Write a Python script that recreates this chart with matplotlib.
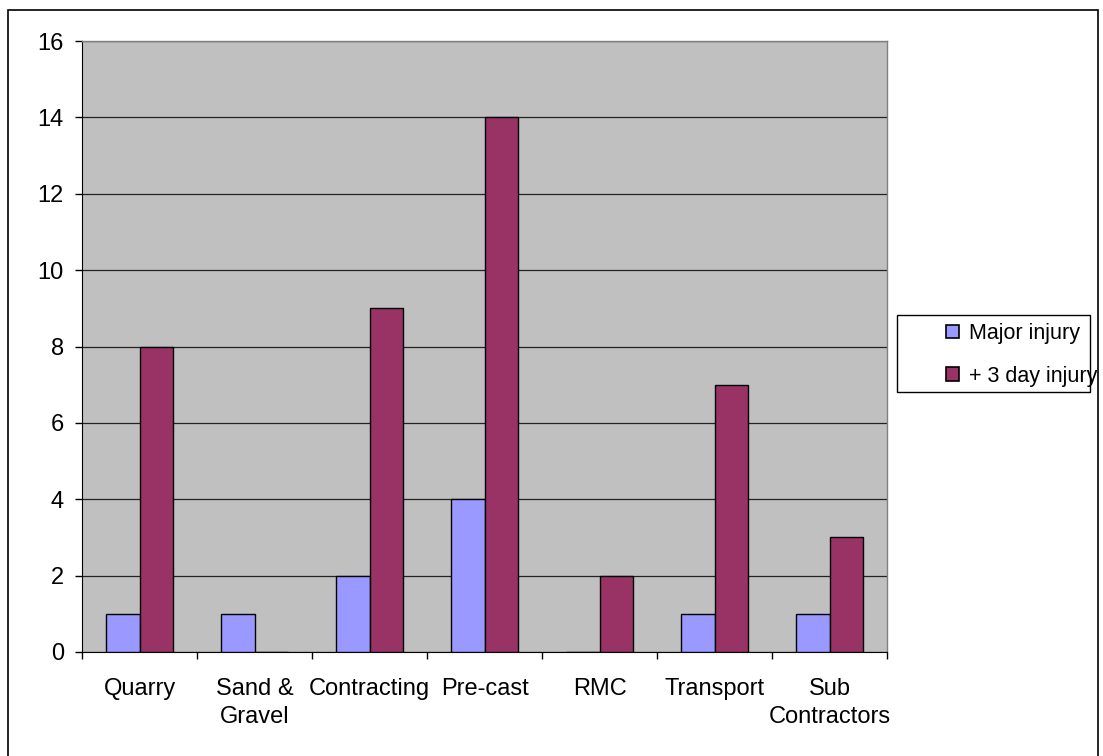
import matplotlib
matplotlib.use("Agg")
import matplotlib.pyplot as plt
import numpy as np
from matplotlib.patches import Rectangle, Patch

categories = ["Quarry", "Sand &\nGravel", "Contracting", "Pre-cast", "RMC", "Transport", "Sub\nContractors"]
major_injury = [1, 1, 2, 4, 0, 1, 1]
three_day_injury = [8, 0, 9, 14, 2, 7, 3]
series_names = ["Major injury", "+ 3 day injury"]
y_ticks = [0, 2, 4, 6, 8, 10, 12, 14, 16]

plt.rcParams['font.family'] = ['Liberation Sans', 'DejaVu Sans']

W, H = 1103, 756
fig = plt.figure(figsize=(W / 100, H / 100), dpi=100)
fig.patch.set_facecolor('white')

# outer border
fig.patches.append(Rectangle((8 / W, -0.05), (1098 - 8) / W, 1.05 - 10 / H,
                             transform=fig.transFigure, fill=False,
                             edgecolor='black', linewidth=1.2))

ax = fig.add_axes([82 / W, 1 - 652 / H, (887 - 82) / W, (652 - 41) / H])
ax.set_facecolor('#C0C0C0')

x = np.arange(len(categories))
bw = 0.29
ax.bar(x - bw / 2, major_injury, bw, color='#9999FF', edgecolor='black', linewidth=1.0, zorder=3)
ax.bar(x + bw / 2, three_day_injury, bw, color='#993366', edgecolor='black', linewidth=1.0, zorder=3)

ax.set_xlim(-0.5, len(categories) - 0.5)
ax.set_ylim(0, 16)
ax.set_yticks(y_ticks)
ax.yaxis.grid(True, color='#222222', linewidth=0.9, zorder=1)
ax.set_axisbelow(True)

ax.set_xticks(x)
ax.set_xticklabels(categories, fontsize=17, linespacing=1.35)
ax.set_xticks(np.arange(len(categories) + 1) - 0.5, minor=True)
ax.tick_params(axis='x', which='major', length=0, pad=19)
ax.tick_params(axis='x', which='minor', length=5, width=1, color='black', direction='out')
ax.tick_params(axis='y', labelsize=17, length=5, width=1, pad=8, color='black')

for s in ['top', 'right']:
    ax.spines[s].set_color('#808080')
    ax.spines[s].set_linewidth(1)
ax.spines['left'].set_color('black')
ax.spines['bottom'].set_color('black')

# legend box
fig.patches.append(Rectangle((897 / W, 1 - 392 / H), (1090 - 897) / W, (392 - 315) / H,
                             transform=fig.transFigure, fill=True, facecolor='white',
                             edgecolor='black', linewidth=1.0, zorder=1))
handles = [Patch(facecolor='#9999FF', edgecolor='black', linewidth=1.2),
           Patch(facecolor='#993366', edgecolor='black', linewidth=1.2)]
fig.legend(handles, series_names, loc='upper left',
           bbox_to_anchor=(946 / W, 1 - 323 / H), frameon=False, fontsize=15.5,
           borderpad=0, handlelength=0.6, handleheight=0.6, handletextpad=0.45,
           labelspacing=1.0, borderaxespad=0)

fig.savefig("out.png", dpi=100)
